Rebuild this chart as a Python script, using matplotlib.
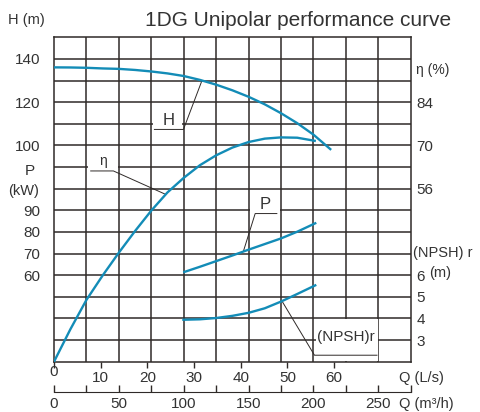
import numpy as np
import matplotlib.pyplot as plt
from matplotlib.patches import Rectangle

plt.rcParams['font.family'] = ['Liberation Sans', 'DejaVu Sans']

# flow in m3/h for every curve
q_head = [0, 12.5, 25, 37.5, 50, 62.5, 75, 87.5, 100, 112.5, 125, 137.5, 150, 162.5, 175, 187.5, 200, 213]
head = [136.1, 136.05, 135.9, 135.6, 135.4, 134.9, 134.2, 133.3, 132.1, 130.3, 128.1, 125.5,
        122.5, 119.0, 114.9, 110.3, 105.0, 98.3]

q_eff = [0, 12.5, 25, 37.5, 50, 62.5, 75, 87.5, 100, 112.5, 125, 137.5, 150, 162.5, 175, 187.5, 201]
eff = [0, 10.4, 20.0, 27.9, 35.3, 42.3, 48.9, 54.8, 59.5, 63.6, 66.8, 69.3, 71.1, 72.2, 72.6, 72.5, 71.5]

q_power = [100.5, 112.5, 125, 137.5, 150, 162.5, 175, 187.5, 201.4]
power = [61.5, 63.9, 66.5, 69.1, 71.8, 74.4, 77.0, 80.1, 84.0]

q_npsh = [99.8, 112.5, 125, 137.5, 150, 162.5, 175, 187.5, 201.4]
npsh = [3.94, 3.96, 4.02, 4.12, 4.26, 4.47, 4.78, 5.13, 5.53]

head_ticks = [100, 120, 140]
power_ticks = [60, 70, 80, 90]
eff_ticks = [56, 70, 84]
npsh_ticks = [3, 4, 5, 6]
qls_ticks = [0, 10, 20, 30, 40, 50, 60]
qm3_ticks = [0, 50, 100, 150, 200, 250]

BLUE = '#138cb7'
DARK = '#2f2a28'
TXT = '#333333'
W, H = 481, 412


# grid rows are 10 m of head; the other scales are mapped onto that grid
def p_to_grid(p):
    return np.asarray(p) - 20


def eff_to_grid(e):
    return np.asarray(e) / 0.7


def npsh_to_grid(n):
    return (np.asarray(n) - 2) * 10


def fig_xy(x, y):
    return x / W, 1 - y / H


fig = plt.figure(figsize=(W / 100, H / 100), dpi=100)
left, right, top, bottom = 54, 410.7, 37.3, 361.7
ax = fig.add_axes([left / W, 1 - bottom / H, (right - left) / W, (bottom - top) / H])
ax.set_xlim(0, 275)
ax.set_ylim(0, 150)

# grid
ax.vlines(np.arange(25, 275, 25), 0, 150, color=DARK, lw=1.1, zorder=0.5)
ax.hlines(np.arange(10, 150, 10), 0, 275, color=DARK, lw=1.1, zorder=0.5)
for s in ax.spines.values():
    s.set_color(DARK)
    s.set_linewidth(1.1)

# white boxes behind the curve labels
for (x0, x1, y0, y1) in [(76, 99, 107, 119), (26, 49, 88.5, 98),
                         (151, 174, 68.8, 78), (202, 249.5, 0.3, 19.6)]:
    ax.add_patch(Rectangle((x0, y0), x1 - x0, y1 - y0, facecolor='white',
                           edgecolor='none', zorder=1))

# curves
ax.plot(q_head, head, color=BLUE, lw=1.7, zorder=3)
ax.plot(q_eff, eff_to_grid(eff), color=BLUE, lw=1.7, zorder=3)
ax.plot(q_power, p_to_grid(power), color=BLUE, lw=1.7, zorder=3)
ax.plot(q_npsh, npsh_to_grid(npsh), color=BLUE, lw=1.7, zorder=3)

# leader lines and curve names
lk = dict(color=DARK, lw=0.7, zorder=2)
ax.plot([114, 99.8, 77.4], [129.9, 107.4, 107.4], **lk)
ax.text(88, 111.5, 'H', fontsize=12, color=TXT, ha='center', va='center', zorder=2)
ax.plot([28.3, 45.8, 85.6], [88.2, 88.2, 77.5], **lk)
ax.text(37.6, 92.6, 'η', fontsize=10, color=TXT, ha='center', va='center', zorder=2)
ax.plot([171.8, 155.1, 146.1], [68.5, 68.5, 51.2], **lk)
ax.text(162.8, 72.6, 'P', fontsize=12, color=TXT, ha='center', va='center', zorder=2)
ax.plot([175.7, 200.8, 249], [28.1, 3.0, 3.0], **lk)
ax.text(225, 11.6, '(NPSH)r', fontsize=11, color=TXT, ha='center', va='center', zorder=2)

# bottom axis in L/s
ax.set_xticks([q * 3.6 for q in qls_ticks])
ax.set_xticklabels([str(q) for q in qls_ticks])
ax.tick_params(axis='x', direction='out', length=4, width=1, color=DARK,
               labelsize=11, labelcolor=TXT, pad=3)
ax.get_xticklabels()[0].set_y(0.02)

# left labels: head and power
ax.set_yticks(list(head_ticks) + list(p_to_grid(power_ticks)))
ax.set_yticklabels([str(v) for v in head_ticks] + [str(v) for v in power_ticks])
ax.tick_params(axis='y', length=0, labelsize=11, labelcolor=TXT, pad=10)

# right labels: efficiency and NPSH
axr = ax.twinx()
axr.set_ylim(0, 150)
axr.set_yticks(list(eff_to_grid(eff_ticks)) + list(npsh_to_grid(npsh_ticks)))
axr.set_yticklabels([str(v) for v in eff_ticks] + [str(v) for v in npsh_ticks])
axr.tick_params(axis='y', length=0, labelsize=11, labelcolor=TXT, pad=4)
for s in axr.spines.values():
    s.set_visible(False)

# second flow axis in m3/h
ax2 = fig.add_axes([left / W, 1 - 391.7 / H, (right - left) / W, 0.0001])
ax2.set_xlim(0, 275)
ax2.set_xticks(qm3_ticks)
ax2.set_xticks(np.arange(25, 276, 50), minor=True)
ax2.set_xticklabels([str(v) for v in qm3_ticks])
ax2.tick_params(axis='x', which='both', direction='in', length=5, width=1,
                color=DARK, labelsize=11, labelcolor=TXT, pad=4)
ax2.set_yticks([])
for k in ['top', 'left', 'right']:
    ax2.spines[k].set_visible(False)
ax2.spines['bottom'].set_color(DARK)
ax2.patch.set_visible(False)

# outer texts
fig.text(*fig_xy(298, 20), '1DG Unipolar performance curve', fontsize=15,
         color=TXT, ha='center', va='center')
fig.text(*fig_xy(8, 20), 'H (m)', fontsize=10.5, color=TXT, ha='left', va='center')
fig.text(*fig_xy(30, 171), 'P', fontsize=11, color=TXT, ha='center', va='center')
fig.text(*fig_xy(8, 191), '(kW)', fontsize=10.5, color=TXT, ha='left', va='center')
fig.text(*fig_xy(416, 70), 'η (%)', fontsize=10, color=TXT, ha='left', va='center')
fig.text(*fig_xy(413, 253), '(NPSH) r', fontsize=10.5, color=TXT, ha='left', va='center')
fig.text(*fig_xy(440, 273), '(m)', fontsize=10.5, color=TXT, ha='center', va='center')
fig.text(*fig_xy(399, 378), 'Q (L/s)', fontsize=10.5, color=TXT, ha='left', va='center')
fig.text(*fig_xy(399, 404), 'Q (m³/h)', fontsize=10.5, color=TXT, ha='left', va='center')

fig.savefig('out.png', dpi=100)
